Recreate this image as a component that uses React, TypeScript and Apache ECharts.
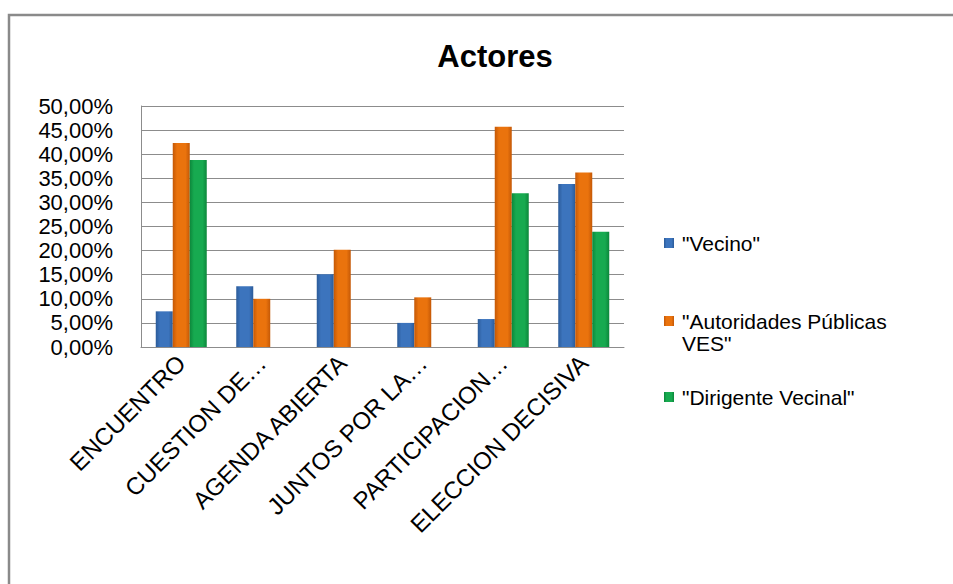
import React, { useEffect, useRef } from "react";
import * as echarts from "echarts";

const categories = [
  "ENCUENTRO",
  "CUESTION DE…",
  "AGENDA ABIERTA",
  "JUNTOS POR LA…",
  "PARTICIPACION…",
  "ELECCION DECISIVA",
];
const seriesNames = ['"Vecino"', '"Autoridades Públicas VES"', '"Dirigente Vecinal"'];
const vecino = [7.4, 12.6, 15.1, 5.0, 5.8, 33.8];
const autoridades = [42.3, 10.0, 20.2, 10.3, 45.7, 36.2];
const dirigente = [38.8, 0, 0, 0, 31.9, 23.9];
const yTicks = { min: 0, max: 50, interval: 5 };

const FONT = "'Liberation Sans', Arial, sans-serif";

const grad = (edge: string, mid: string) =>
  new echarts.graphic.LinearGradient(0, 0, 1, 0, [
    { offset: 0, color: edge },
    { offset: 0.25, color: mid },
    { offset: 0.75, color: mid },
    { offset: 1, color: edge },
  ]);

export default function App() {
  const ref = useRef<HTMLDivElement>(null);
  useEffect(() => {
    if (!ref.current) return;
    const chart = echarts.init(ref.current, undefined, { renderer: "svg" });
    const colors = [
      ["#2b5b99", "#3c74bd"],
      ["#c45806", "#ea730d"],
      ["#0c873b", "#17aa50"],
    ];
    const datas = [vecino, autoridades, dirigente];
    const legendText = {
      fontFamily: FONT,
      fontSize: 21,
      color: "#000",
      lineHeight: 22,
      padding: [0, 0, 0, 3],
    };
    const legendBase = {
      left: 664,
      padding: 0,
      itemWidth: 10,
      itemHeight: 10,
      itemGap: 8,
      icon: "rect",
      textStyle: legendText,
    };
    chart.setOption({
      animation: false,
      backgroundColor: "#fff",
      title: {
        text: "Actores",
        left: 490,
        textAlign: "center",
        top: 36,
        textStyle: { fontFamily: FONT, fontSize: 31, fontWeight: "bold", color: "#000" },
      },
      graphic: [
        {
          type: "rect",
          shape: { x: 9, y: 15, width: 960, height: 620 },
          style: { fill: "none", stroke: "#8a8a8a", lineWidth: 2.5 },
          silent: true,
        },
      ],
      legend: [
        { ...legendBase, data: [seriesNames[0]], top: 232 },
        {
          ...legendBase,
          data: [seriesNames[1]],
          top: 288,
          formatter: () => '\n"Autoridades Públicas\nVES"',
        },
        { ...legendBase, data: [seriesNames[2]], top: 386 },
      ],
      grid: { left: 141, top: 106, right: 329, bottom: 237, containLabel: false },
      xAxis: {
        type: "category",
        data: categories,
        axisLine: { lineStyle: { color: "#8c8c8c", width: 1 } },
        axisTick: { show: false },
        axisLabel: {
          interval: 0,
          rotate: 45,
          margin: 12,
          fontFamily: FONT,
          fontSize: 24,
          color: "#000",
        },
      },
      yAxis: {
        type: "value",
        min: yTicks.min,
        max: yTicks.max,
        interval: yTicks.interval,
        axisLine: { show: true, lineStyle: { color: "#8c8c8c", width: 1 } },
        axisTick: { show: false },
        splitLine: { lineStyle: { color: "#8c8c8c", width: 1 } },
        axisLabel: {
          margin: 28,
          fontFamily: FONT,
          fontSize: 22,
          lineHeight: 22,
          color: "#000",
          formatter: (v: number) => v.toFixed(2).replace(".", ",") + "%",
        },
      },
      series: datas.map((d, i) => ({
        name: seriesNames[i],
        type: "bar",
        data: d,
        barWidth: 17,
        barGap: "0%",
        itemStyle: { color: grad(colors[i][0], colors[i][1]) },
      })),
    });
    return () => chart.dispose();
  }, []);
  return (
    <div
      ref={ref}
      style={{ position: "fixed", left: 0, top: 0, width: 953, height: 584 }}
    />
  );
}
